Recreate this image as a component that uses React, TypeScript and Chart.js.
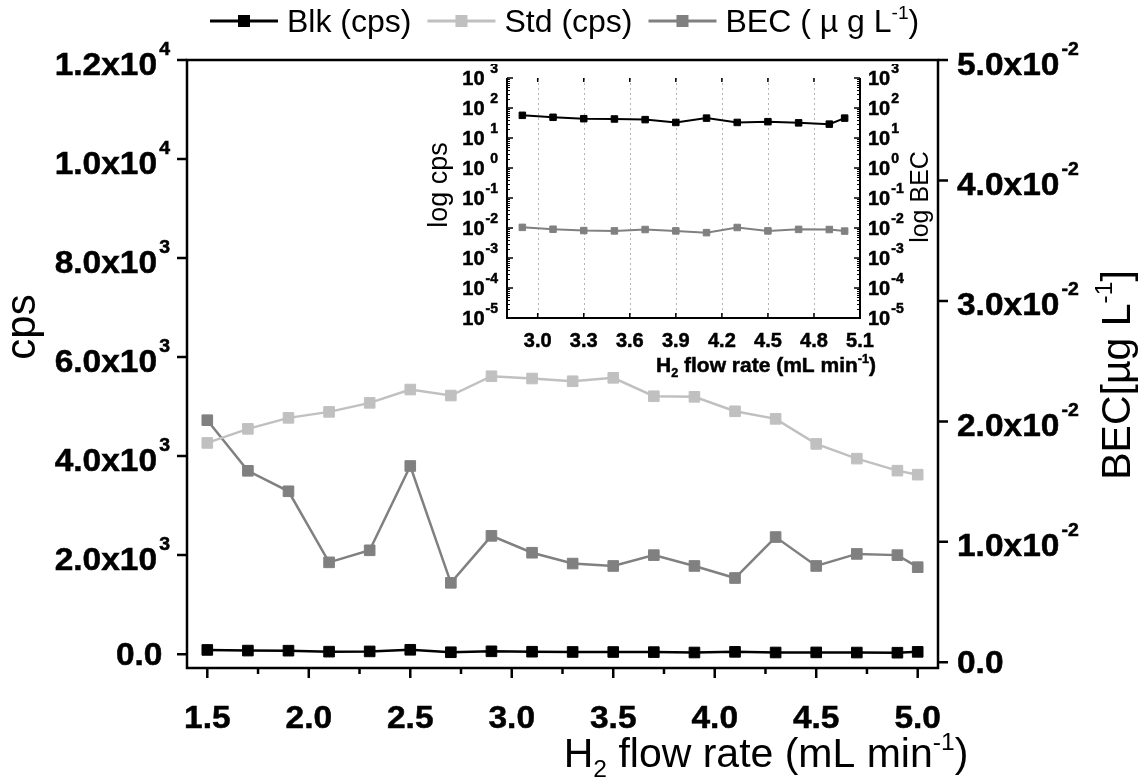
import { useEffect, useRef } from 'react';
import { Chart, registerables } from 'chart.js';

Chart.register(...registerables);

const FONT = '"Liberation Sans", Arial, Helvetica, sans-serif';

// H2 flow rate (mL/min) of every measurement
const flowRates = [1.5, 1.7, 1.9, 2.1, 2.3, 2.5, 2.7, 2.9, 3.1, 3.3, 3.5, 3.7, 3.9, 4.1, 4.3, 4.5, 4.7, 4.9, 5.0];
// blank signal (cps)
const blkCps = [85, 72, 70, 50, 55, 88, 38, 57, 49, 44, 43, 41, 33, 46, 33, 35, 32, 29, 46];
// standard signal (cps)
const stdCps = [4266, 4550, 4772, 4893, 5075, 5344, 5223, 5613, 5567, 5512, 5581, 5209, 5197, 4905, 4752, 4246, 3949, 3706, 3625];
// background equivalent concentration (µg/L)
const becValues = [0.0201, 0.0159, 0.0142, 0.0083, 0.0093, 0.0163, 0.0066, 0.0105, 0.0091, 0.0082, 0.008, 0.0089, 0.008, 0.007, 0.0104, 0.008, 0.009, 0.0089, 0.0079];

// axis ticks
const flowTicks = [1.5, 2.0, 2.5, 3.0, 3.5, 4.0, 4.5, 5.0];
const flowMinorTicks = [1.75, 2.25, 2.75, 3.25, 3.75, 4.25, 4.75];
const cpsTicks = [0, 2000, 4000, 6000, 8000, 10000, 12000];
const becTicks = [0, 0.01, 0.02, 0.03, 0.04, 0.05];
const insetFlowTicks = [3.0, 3.3, 3.6, 3.9, 4.2, 4.5, 4.8, 5.1];
const logExponents = [-5, -4, -3, -2, -1, 0, 1, 2, 3];
// the log-scale inset covers the upper part of the flow range
const insetFromFlow = 2.9;

const BLK_COLOR = '#000000';
const STD_COLOR = '#c0c0c0';
const BEC_COLOR = '#808080';

type Part = { t: string; sup?: boolean; sub?: boolean };

const flowTitle: Part[] = [{ t: 'H' }, { t: '2', sub: true }, { t: ' flow rate (mL min' }, { t: '-1', sup: true }, { t: ')' }];
const becTitle: Part[] = [{ t: 'BEC[µg L' }, { t: '-1', sup: true }, { t: ']' }];

const legendEntries: { parts: Part[]; color: string }[] = [
  { parts: [{ t: 'Blk (cps)' }], color: BLK_COLOR },
  { parts: [{ t: 'Std (cps)' }], color: STD_COLOR },
  { parts: [{ t: 'BEC ( µ g L' }, { t: '-1', sup: true }, { t: ')' }], color: BEC_COLOR },
];

// tick labels are set slightly wide and heavy
const LABEL_STRETCH = 1.08;

function font(size: number, bold: boolean) {
  return `${bold ? 'bold ' : ''}${size}px ${FONT}`;
}

function heavyText(ctx: CanvasRenderingContext2D, text: string, x: number, y: number) {
  ctx.fillText(text, x, y);
  ctx.lineWidth = 0.5;
  ctx.strokeStyle = ctx.fillStyle as string;
  ctx.strokeText(text, x, y);
}

function richWidth(ctx: CanvasRenderingContext2D, parts: Part[], size: number, bold: boolean) {
  let w = 0;
  for (const p of parts) {
    ctx.font = font(p.sup || p.sub ? size * 0.6 : size, bold);
    w += ctx.measureText(p.t).width;
  }
  return w;
}

function drawRich(
  ctx: CanvasRenderingContext2D,
  parts: Part[],
  x: number,
  y: number,
  size: number,
  bold: boolean,
  align: 'left' | 'center' | 'right'
) {
  const w = richWidth(ctx, parts, size, bold);
  let cx = align === 'left' ? x : align === 'center' ? x - w / 2 : x - w;
  ctx.textAlign = 'left';
  ctx.textBaseline = 'alphabetic';
  for (const p of parts) {
    const s = p.sup || p.sub ? size * 0.6 : size;
    ctx.font = font(s, bold);
    const dy = p.sup ? -size * 0.42 : p.sub ? size * 0.24 : 0;
    if (bold) heavyText(ctx, p.t, cx, y + dy);
    else ctx.fillText(p.t, cx, y + dy);
    cx += ctx.measureText(p.t).width;
  }
  return w;
}

// "m.mx10^e" label; side 'right' means right-aligned at x, 'left' means starting at x
function drawSciLabel(ctx: CanvasRenderingContext2D, v: number, x: number, py: number, side: 'left' | 'right') {
  ctx.save();
  ctx.translate(x, py);
  ctx.scale(LABEL_STRETCH, 1);
  ctx.fillStyle = '#000';
  ctx.textBaseline = 'alphabetic';
  if (v === 0) {
    ctx.font = font(31, true);
    ctx.textAlign = side === 'right' ? 'right' : 'left';
    heavyText(ctx, '0.0', side === 'right' ? -7 : 0, 11);
    ctx.restore();
    return;
  }
  const exp = Math.floor(Math.log10(v) + 1e-9);
  const mant = (v / Math.pow(10, exp)).toFixed(1) + 'x10';
  const expStr = String(exp);
  ctx.textAlign = 'left';
  ctx.font = font(31, true);
  const mw = ctx.measureText(mant).width;
  ctx.font = font(18, true);
  const ew = ctx.measureText(expStr).width;
  let mantX: number;
  let expX: number;
  if (side === 'right') {
    expX = -ew;
    mantX = expX - 2 - mw;
  } else {
    mantX = 0;
    expX = mw + 2;
  }
  ctx.font = font(31, true);
  heavyText(ctx, mant, mantX, 14.5);
  ctx.font = font(18, true);
  heavyText(ctx, expStr, expX, -5.5);
  ctx.restore();
}

function drawRotated(ctx: CanvasRenderingContext2D, cx: number, cy: number, fn: () => void) {
  ctx.save();
  ctx.translate(cx, cy);
  ctx.rotate(-Math.PI / 2);
  fn();
  ctx.restore();
}

const fixedTicks = (values: number[]) => (scale: any) => {
  scale.ticks = values.map((value) => ({ value }));
};

const hiddenAxis = {
  grid: { display: false },
  border: { display: false },
  ticks: { display: false },
};

const series = (label: string, data: { x: number; y: number }[], color: string, axis: string, radius: number, width: number) => ({
  label,
  data,
  yAxisID: axis,
  borderColor: color,
  backgroundColor: color,
  borderWidth: width,
  pointStyle: 'rect' as const,
  pointRadius: radius,
  pointBorderWidth: 1,
  pointBackgroundColor: color,
  pointBorderColor: color,
  tension: 0,
  fill: false,
});

const toPoints = (ys: number[]) => flowRates.map((x, i) => ({ x, y: ys[i] }));
const toInsetPoints = (ys: number[]) => toPoints(ys).filter((p) => p.x >= insetFromFlow - 1e-9);

const mainDecor = {
  id: 'mainDecor',
  afterDraw(chart: any) {
    const { ctx, chartArea: a, scales } = chart;
    const sx = scales.x;
    const sy = scales.y;
    const sy2 = scales.y2;
    ctx.save();
    ctx.strokeStyle = '#000';
    ctx.lineWidth = 2.5;
    ctx.lineCap = 'square';
    ctx.strokeRect(a.left, a.top, a.right - a.left, a.bottom - a.top);

    ctx.lineCap = 'butt';
    ctx.beginPath();
    sx.ticks.forEach((t: any) => {
      const px = sx.getPixelForValue(t.value);
      ctx.moveTo(px, a.bottom);
      ctx.lineTo(px, a.bottom + 10);
    });
    flowMinorTicks.forEach((v) => {
      const px = sx.getPixelForValue(v);
      ctx.moveTo(px, a.bottom);
      ctx.lineTo(px, a.bottom + 6);
    });
    sy.ticks.forEach((t: any) => {
      const py = sy.getPixelForValue(t.value);
      ctx.moveTo(a.left, py);
      ctx.lineTo(a.left - 10, py);
    });
    sy2.ticks.forEach((t: any) => {
      const py = sy2.getPixelForValue(t.value);
      ctx.moveTo(a.right, py);
      ctx.lineTo(a.right + 10, py);
    });
    ctx.stroke();

    // tick labels
    ctx.fillStyle = '#000';
    sx.ticks.forEach((t: any) => {
      ctx.save();
      ctx.translate(sx.getPixelForValue(t.value), a.bottom + 60);
      ctx.scale(LABEL_STRETCH, 1);
      ctx.font = font(31, true);
      ctx.textAlign = 'center';
      ctx.textBaseline = 'alphabetic';
      heavyText(ctx, t.value.toFixed(1), 0, 0);
      ctx.restore();
    });
    sy.ticks.forEach((t: any) => drawSciLabel(ctx, t.value, a.left - 17, sy.getPixelForValue(t.value), 'right'));
    sy2.ticks.forEach((t: any) => drawSciLabel(ctx, t.value, a.right + 19, sy2.getPixelForValue(t.value), 'left'));

    // axis titles
    ctx.fillStyle = '#000';
    drawRich(ctx, flowTitle, 766, 767, 41, false, 'center');
    drawRotated(ctx, 28, 327, () => {
      ctx.font = font(42, false);
      ctx.textAlign = 'center';
      ctx.textBaseline = 'alphabetic';
      ctx.fillText('cps', 0, 7);
    });
    drawRotated(ctx, 1115, 375, () => drawRich(ctx, becTitle, 0, 14.5, 41, false, 'center'));

    // legend
    let lx = 210;
    const ly = 21;
    legendEntries.forEach((entry) => {
      ctx.strokeStyle = entry.color;
      ctx.lineWidth = 3;
      ctx.beginPath();
      ctx.moveTo(lx, ly);
      ctx.lineTo(lx + 68, ly);
      ctx.stroke();
      ctx.fillStyle = entry.color;
      ctx.fillRect(lx + 34 - 6, ly - 6, 12, 12);
      ctx.fillStyle = '#000';
      const w = drawRich(ctx, entry.parts, lx + 77, 32, 32, false, 'left');
      lx += 77 + w + 16;
    });
    ctx.restore();
  },
};

const insetDecor = {
  id: 'insetDecor',
  beforeDatasetsDraw(chart: any) {
    const { ctx, chartArea: a, scales } = chart;
    const sx = scales.x;
    ctx.save();
    ctx.strokeStyle = '#b4b4b4';
    ctx.lineWidth = 1;
    ctx.setLineDash([2, 3]);
    ctx.beginPath();
    sx.ticks.forEach((t: any) => {
      const px = Math.round(sx.getPixelForValue(t.value)) + 0.5;
      if (px > a.right - 3) return;
      ctx.moveTo(px, a.top);
      ctx.lineTo(px, a.bottom);
    });
    ctx.stroke();
    ctx.restore();
  },
  afterDraw(chart: any) {
    const { ctx, chartArea: a, scales } = chart;
    const sx = scales.x;
    const sy = scales.y;
    const sy2 = scales.y2;
    ctx.save();
    ctx.strokeStyle = '#000';
    ctx.lineWidth = 2;
    ctx.beginPath();
    ctx.moveTo(a.left, a.top);
    ctx.lineTo(a.left, a.bottom);
    ctx.lineTo(a.right, a.bottom);
    ctx.lineTo(a.right, a.top);
    ctx.stroke();

    ctx.lineWidth = 1.5;
    ctx.beginPath();
    sx.ticks.forEach((t: any) => {
      const px = sx.getPixelForValue(t.value);
      ctx.moveTo(px, a.bottom);
      ctx.lineTo(px, a.bottom - 5);
      ctx.moveTo(px, a.top);
      ctx.lineTo(px, a.top + 4);
    });
    [sy, sy2].forEach((s: any, side: number) => {
      const x0 = side === 0 ? a.left : a.right;
      const dir = side === 0 ? 1 : -1;
      s.ticks.forEach((t: any) => {
        const py = s.getPixelForValue(t.value);
        ctx.moveTo(x0, py);
        ctx.lineTo(x0 + dir * 6, py);
      });
    });
    ctx.stroke();

    ctx.lineWidth = 1;
    ctx.beginPath();
    [sy, sy2].forEach((s: any, side: number) => {
      const x0 = side === 0 ? a.left : a.right;
      const dir = side === 0 ? 1 : -1;
      logExponents.slice(0, -1).forEach((e) => {
        for (let k = 2; k <= 9; k++) {
          const py = Math.round(s.getPixelForValue(k * Math.pow(10, e))) + 0.5;
          ctx.moveTo(x0, py);
          ctx.lineTo(x0 + dir * 3, py);
        }
      });
    });
    ctx.stroke();

    // labels
    ctx.fillStyle = '#000';
    ctx.font = font(20, true);
    ctx.textAlign = 'center';
    ctx.textBaseline = 'alphabetic';
    sx.ticks.forEach((t: any) => {
      heavyText(ctx, t.value.toFixed(1), sx.getPixelForValue(t.value), a.bottom + 29);
    });

    ctx.font = font(14, true);
    const expSlot = ctx.measureText('-5').width;
    sy.ticks.forEach((t: any) => {
      const py = sy.getPixelForValue(t.value);
      const e = String(Math.round(Math.log10(t.value)));
      const expRight = a.left - 9;
      ctx.textAlign = 'right';
      ctx.font = font(14, true);
      heavyText(ctx, e, expRight, py - 5);
      ctx.font = font(20, true);
      heavyText(ctx, '10', expRight - expSlot - 1, py + 7);
    });
    sy2.ticks.forEach((t: any) => {
      const py = sy2.getPixelForValue(t.value);
      const e = String(Math.round(Math.log10(t.value)));
      const x0 = a.right + 8;
      ctx.textAlign = 'left';
      ctx.font = font(20, true);
      heavyText(ctx, '10', x0, py + 7);
      const w = ctx.measureText('10').width;
      ctx.font = font(14, true);
      heavyText(ctx, e, x0 + w + 1, py - 5);
    });

    drawRich(ctx, flowTitle, 366, 308, 21, true, 'center');
    drawRotated(ctx, 40, 121, () => {
      ctx.font = font(27, false);
      ctx.textAlign = 'center';
      ctx.fillText('log cps', 0, 7);
    });
    drawRotated(ctx, 520, 133, () => {
      ctx.font = font(25, false);
      ctx.textAlign = 'center';
      ctx.fillText('log BEC', 0, 8);
    });
    ctx.restore();
  },
};

export default function App() {
  const mainRef = useRef<HTMLCanvasElement>(null);
  const insetRef = useRef<HTMLCanvasElement>(null);

  useEffect(() => {
    Chart.defaults.font.family = FONT;
    const logTickValues = logExponents.map((e) => Math.pow(10, e));

    const main = new Chart(mainRef.current as HTMLCanvasElement, {
      type: 'line',
      data: {
        datasets: [
          series('Blk (cps)', toPoints(blkCps), BLK_COLOR, 'y', 7.5, 2.5),
          series('Std (cps)', toPoints(stdCps), STD_COLOR, 'y', 7.5, 2.5),
          series('BEC (µg L-1)', toPoints(becValues), BEC_COLOR, 'y2', 7.5, 2.5),
        ] as any,
      },
      options: {
        responsive: false,
        animation: false,
        events: [],
        layout: { padding: { top: 60, left: 0, right: 0, bottom: 0 } },
        plugins: { legend: { display: false }, tooltip: { enabled: false } },
        scales: {
          x: { type: 'linear', min: 1.4, max: 5.1, ...hiddenAxis, afterBuildTicks: fixedTicks(flowTicks), afterFit: (s: any) => { s.height = 112; } },
          y: { type: 'linear', position: 'left', min: -280, max: 12000, ...hiddenAxis, afterBuildTicks: fixedTicks(cpsTicks), afterFit: (s: any) => { s.width = 187; } },
          y2: { type: 'linear', position: 'right', min: -0.00047, max: 0.05, ...hiddenAxis, afterBuildTicks: fixedTicks(becTicks), afterFit: (s: any) => { s.width = 210; } },
        } as any,
      },
      plugins: [mainDecor],
    });

    const inset = new Chart(insetRef.current as HTMLCanvasElement, {
      type: 'line',
      data: {
        datasets: [
          series('log cps', toInsetPoints(blkCps), BLK_COLOR, 'y', 4.6, 2),
          series('log BEC', toInsetPoints(becValues), BEC_COLOR, 'y2', 4.6, 2),
        ] as any,
      },
      options: {
        responsive: false,
        animation: false,
        events: [],
        layout: { padding: { top: 14, left: 0, right: 0, bottom: 0 } },
        plugins: { legend: { display: false }, tooltip: { enabled: false } },
        scales: {
          x: { type: 'linear', min: 2.8, max: 5.1, ...hiddenAxis, afterBuildTicks: fixedTicks(insetFlowTicks), afterFit: (s: any) => { s.height = 66; } },
          y: { type: 'logarithmic', position: 'left', min: 1e-5, max: 1e3, ...hiddenAxis, afterBuildTicks: fixedTicks(logTickValues), afterFit: (s: any) => { s.width = 107; } },
          y2: { type: 'logarithmic', position: 'right', min: 1e-5, max: 1e3, ...hiddenAxis, afterBuildTicks: fixedTicks(logTickValues), afterFit: (s: any) => { s.width = 100; } },
        } as any,
      },
      plugins: [insetDecor],
    });

    return () => {
      main.destroy();
      inset.destroy();
    };
  }, []);

  return (
    <div style={{ position: 'fixed', left: 0, top: 0, width: 1148, height: 780, background: '#fff' }}>
      <canvas ref={mainRef} width={1148} height={780} style={{ position: 'absolute', left: 0, top: 0 }} />
      <canvas ref={insetRef} width={560} height={320} style={{ position: 'absolute', left: 400, top: 64 }} />
    </div>
  );
}
